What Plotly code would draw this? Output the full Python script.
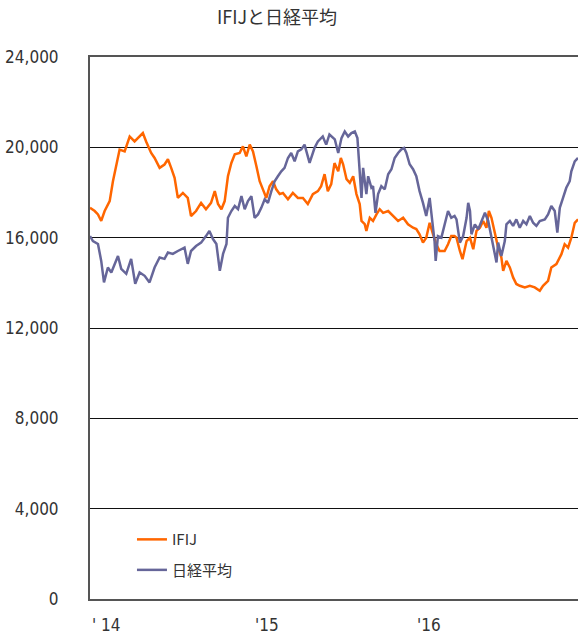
import plotly.graph_objects as go

# ---- data (x in decimal years) ----
ifij_t = [2014.000, 2014.029, 2014.049, 2014.069, 2014.090, 2014.121, 2014.141, 2014.161, 2014.182, 2014.213,
          2014.244, 2014.274, 2014.305, 2014.325, 2014.345, 2014.376, 2014.397, 2014.428, 2014.458, 2014.479,
          2014.499, 2014.520, 2014.540, 2014.571, 2014.601, 2014.621, 2014.652, 2014.683, 2014.713, 2014.744,
          2014.767, 2014.787, 2014.808, 2014.828, 2014.848, 2014.869, 2014.890, 2014.920, 2014.940, 2014.961,
          2014.982, 2015.002, 2015.023, 2015.043, 2015.063, 2015.084, 2015.104, 2015.125, 2015.145, 2015.166,
          2015.186, 2015.217, 2015.247, 2015.278, 2015.309, 2015.339, 2015.370, 2015.401, 2015.421, 2015.442,
          2015.462, 2015.483, 2015.503, 2015.526, 2015.542, 2015.556, 2015.577, 2015.597, 2015.618, 2015.638,
          2015.658, 2015.669, 2015.689, 2015.699, 2015.720, 2015.740, 2015.761, 2015.781, 2015.802, 2015.833,
          2015.863, 2015.894, 2015.925, 2015.955, 2015.986, 2016.006, 2016.026, 2016.047, 2016.067, 2016.088,
          2016.109, 2016.129, 2016.149, 2016.180, 2016.201, 2016.221, 2016.241, 2016.253, 2016.274, 2016.290,
          2016.315, 2016.336, 2016.356, 2016.376, 2016.397, 2016.417, 2016.437, 2016.452, 2016.468, 2016.489,
          2016.509, 2016.529, 2016.540, 2016.560, 2016.581, 2016.601, 2016.621, 2016.642, 2016.673, 2016.704,
          2016.734, 2016.765, 2016.785, 2016.816, 2016.836, 2016.867, 2016.898, 2016.918, 2016.939, 2016.959,
          2016.980, 2017.000]
ifij_v = [17320, 17180, 17030, 16740, 17180, 17620, 18500, 19250, 19900, 19820,
          20480, 20260, 20480, 20630, 20260, 19750, 19530, 19090, 19240, 19470,
          19090, 18650, 17760, 17980, 17760, 16960, 17180, 17540, 17260, 17540,
          18060, 17490, 17260, 17620, 18720, 19310, 19690, 19750, 20040, 19600,
          20120, 19820, 19160, 18500, 18140, 17760, 18280, 18500, 18140, 17930,
          17980, 17700, 17980, 17760, 17760, 17490, 17930, 18060, 18280, 18810,
          18060, 18370, 19300, 18940, 19530, 19250, 18590, 18430, 18720, 17930,
          17490, 16740, 16600, 16300, 16880, 16740, 17030, 17260, 17100, 17180,
          16960, 16740, 16880, 16590, 16440, 16380, 16150, 15780, 16000, 16660,
          16150, 15710, 15410, 15410, 15710, 16070, 16070, 16000, 15410, 15050,
          15850, 16000, 15490, 16300, 16440, 16740, 16440, 17180, 16880, 16150,
          15560, 15120, 14530, 14970, 14680, 14240, 13950, 13870, 13800, 13870,
          13800, 13650, 13870, 14090, 14680, 14830, 15270, 15710, 15560, 16000,
          16660, 16810]

nikkei_t = [2014.000, 2014.018, 2014.049, 2014.069, 2014.086, 2014.110, 2014.131, 2014.152, 2014.172, 2014.192,
            2014.223, 2014.253, 2014.278, 2014.305, 2014.336, 2014.366, 2014.397, 2014.428, 2014.458, 2014.479,
            2014.509, 2014.540, 2014.581, 2014.601, 2014.621, 2014.652, 2014.683, 2014.713, 2014.734, 2014.756,
            2014.777, 2014.798, 2014.818, 2014.839, 2014.848, 2014.869, 2014.890, 2014.910, 2014.931, 2014.951,
            2014.971, 2014.992, 2015.012, 2015.033, 2015.053, 2015.074, 2015.094, 2015.115, 2015.135, 2015.155,
            2015.176, 2015.196, 2015.217, 2015.237, 2015.258, 2015.278, 2015.299, 2015.319, 2015.350, 2015.380,
            2015.401, 2015.431, 2015.452, 2015.472, 2015.493, 2015.505, 2015.526, 2015.546, 2015.566, 2015.587,
            2015.607, 2015.628, 2015.644, 2015.658, 2015.669, 2015.679, 2015.699, 2015.710, 2015.730, 2015.740,
            2015.755, 2015.771, 2015.791, 2015.812, 2015.833, 2015.853, 2015.873, 2015.894, 2015.914, 2015.931,
            2015.945, 2015.965, 2015.986, 2016.006, 2016.026, 2016.047, 2016.067, 2016.088, 2016.098, 2016.118,
            2016.125, 2016.139, 2016.160, 2016.180, 2016.201, 2016.221, 2016.241, 2016.253, 2016.274, 2016.294,
            2016.315, 2016.325, 2016.336, 2016.345, 2016.366, 2016.387, 2016.407, 2016.428, 2016.448, 2016.468,
            2016.479, 2016.489, 2016.499, 2016.509, 2016.529, 2016.550, 2016.560, 2016.581, 2016.601, 2016.621,
            2016.642, 2016.663, 2016.683, 2016.704, 2016.724, 2016.744, 2016.765, 2016.796, 2016.816, 2016.836,
            2016.857, 2016.873, 2016.888, 2016.908, 2016.928, 2016.949, 2016.959, 2016.980, 2017.000]
nikkei_v = [16070, 15850, 15720, 14970, 14020, 14680, 14460, 14840, 15190, 14620,
            14400, 15060, 13960, 14460, 14310, 14020, 14680, 15120, 15060, 15340,
            15280, 15410, 15560, 14840, 15410, 15630, 15780, 16070, 16300, 15940,
            15720, 14530, 15280, 15720, 16880, 17180, 17400, 17260, 17840, 17260,
            17620, 17840, 16880, 17030, 17320, 17700, 17540, 18060, 18500, 18720,
            18940, 19090, 19530, 19750, 19380, 19820, 19910, 20120, 19310, 19970,
            20260, 20480, 20120, 20570, 20410, 20350, 19750, 20410, 20700, 20480,
            20630, 20700, 20410, 18940, 17760, 19090, 17930, 18720, 18210, 18280,
            17100, 17930, 18280, 18140, 18810, 19030, 19530, 19750, 19910, 19970,
            19750, 19250, 19030, 18720, 18060, 17540, 16960, 17760, 17030, 15850,
            14970, 16070, 16000, 16590, 17180, 16880, 16960, 16810, 15780, 16070,
            16880, 17540, 17180, 16150, 16590, 16370, 16740, 17100, 16740, 16070,
            15710, 15270, 14900, 15780, 15190, 15850, 16590, 16740, 16520, 16810,
            16440, 16740, 16590, 16960, 16660, 16520, 16740, 16810, 17030, 17400,
            17180, 16220, 17320, 17760, 18210, 18500, 18940, 19380, 19530]

y_ticks = [0, 4000, 8000, 12000, 16000, 20000, 24000]
x_tick_years = [2014, 2015, 2016]
x_tick_labels = ["' 14", "'15", "'16"]

series_names = ["IFIJ", "日経平均"]
series_colors = ["#FF6600", "#666699"]

fig = go.Figure()
fig.add_trace(go.Scatter(x=ifij_t, y=ifij_v, mode="lines", name=series_names[0],
                         line=dict(color=series_colors[0], width=2.5), legendgroup="a"))
fig.add_trace(go.Scatter(x=nikkei_t, y=nikkei_v, mode="lines", name=series_names[1],
                         line=dict(color=series_colors[1], width=2.5), legendgroup="b"))

tick_font = dict(family="Liberation Sans Narrow, DejaVu Sans Condensed, Liberation Sans, Arial", size=17, color="#333333")

for yr, lab in zip(x_tick_years, x_tick_labels):
    fig.add_annotation(x=yr, y=0, xref="x", yref="paper", text=lab, showarrow=False,
                       xanchor="left", yanchor="middle", yshift=-26, font=tick_font)

fig.update_layout(
    width=578, height=639,
    margin=dict(l=90, r=0, t=57, b=40, autoexpand=False),
    paper_bgcolor="white", plot_bgcolor="white",
    title=dict(text="IFIJと日経平均", x=277/578, xanchor="center", xref="container",
               y=1 - 18/639, yanchor="middle", yref="container",
               font=dict(family="Noto Sans CJK JP", size=18, color="#333333")),
    showlegend=True,
    legend=dict(x=0.086, y=0.14, xanchor="left", yanchor="top", bgcolor="rgba(0,0,0,0)",
                font=dict(family="Noto Sans CJK JP", size=15, color="#333333"),
                tracegroupgap=8, traceorder="grouped"),
    xaxis=dict(range=[2014, 2017], showgrid=False, zeroline=False, showticklabels=False,
               ticks="", showline=True, linecolor="#555555", linewidth=2, mirror=True),
    yaxis=dict(range=[0, 24000], tickvals=y_ticks, tickformat=",d", showgrid=True,
               gridcolor="#111111", gridwidth=1.2, zeroline=False, showline=True,
               linecolor="#555555", linewidth=2, ticks="", ticklabelstandoff=26,
               tickfont=tick_font),
)

fig.write_html("out.html", config={"displayModeBar": False},
               post_script="document.body.style.margin='0';document.body.style.overflow='hidden';")
